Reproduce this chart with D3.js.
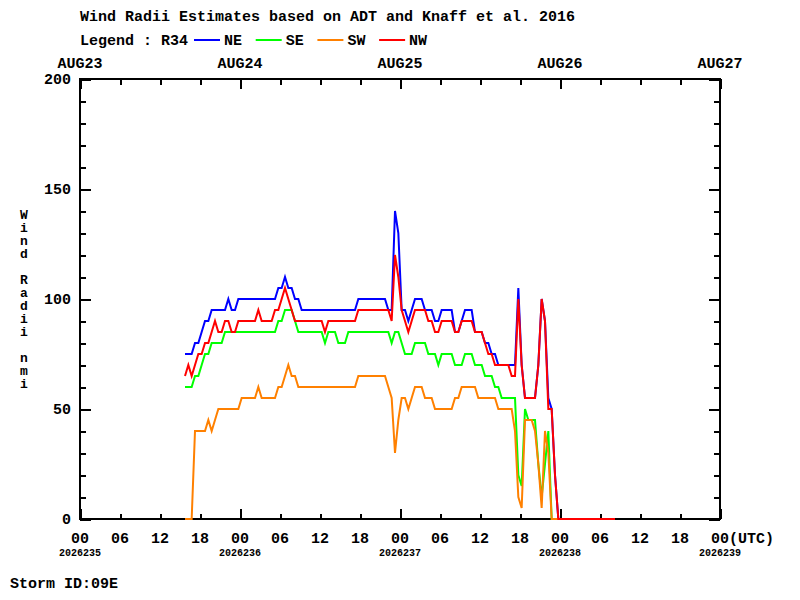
<!DOCTYPE html>
<html lang="en">
<head>
<meta charset="UTF-8">
<title>Wind Radii Estimates</title>
<script src="https://d3js.org/d3.v7.min.js"></script>
<style>
  body { margin: 0; background: #fff; }
  svg text { font-family: "Liberation Mono", "DejaVu Sans Mono", monospace; font-weight: bold; fill: #000; }
  .axis path { display: none; }
  .axis line { stroke: #000; stroke-width: 2px; shape-rendering: crispEdges; }
  .series { fill: none; stroke-width: 2px; }
  .ytitle { writing-mode: vertical-rl; text-orientation: upright; font-size: 13px; letter-spacing: -2px; }
</style>
</head>
<body>
<svg width="800" height="600"></svg>
<script>
// hours since 2026235 00UTC
const hours = [
  15.75,16.25,16.75,17.25,17.75,18.25,18.75,19.25,19.75,20.25,
  20.75,21.25,21.75,22.25,22.75,23.25,23.75,24.25,24.75,25.25,
  25.75,26.25,26.75,27.25,27.75,28.25,28.75,29.25,29.75,30.25,
  30.75,31.25,31.75,32.25,32.75,33.25,33.75,34.25,34.75,35.25,
  35.75,36.25,36.75,37.25,37.75,38.25,38.75,39.25,39.75,40.25,
  40.75,41.25,41.75,42.25,42.75,43.25,43.75,44.25,44.75,45.25,
  45.75,46.25,46.75,47.25,47.75,48.25,48.75,49.25,49.75,50.25,
  50.75,51.25,51.75,52.25,52.75,53.25,53.75,54.25,54.75,55.25,
  55.75,56.25,56.75,57.25,57.75,58.25,58.75,59.25,59.75,60.25,
  60.75,61.25,61.75,62.25,62.75,63.25,63.75,64.25,64.75,65.25,
  65.75,66.25,66.75,67.25,67.75,68.25,68.75,69.25,69.75,70.25,
  70.75,71.25,71.75,80.25
];

// R34 radii (nmi) per quadrant
const ne = [
  75,75,75,80,80,85,90,90,95,95,
  95,95,95,100,95,95,100,100,100,100,
  100,100,100,100,100,100,100,100,105,105,
  110,105,105,100,100,95,95,95,95,95,
  95,95,95,95,95,95,95,95,95,95,
  95,95,100,100,100,100,100,100,100,100,
  100,95,95,140,130,95,95,90,95,100,
  100,100,95,95,95,90,90,95,95,95,
  95,85,85,90,95,95,95,85,85,85,
  80,80,75,75,70,70,70,70,70,70,
  105,70,55,55,55,55,70,100,90,55,
  50,20,0,0
];
const se = [
  60,60,60,65,65,70,75,75,80,80,
  80,80,85,85,85,85,85,85,85,85,
  85,85,85,85,85,85,85,85,90,90,
  95,95,95,90,85,85,85,85,85,85,
  85,85,80,85,85,85,80,80,80,85,
  85,85,85,85,85,85,85,85,85,85,
  85,85,80,85,85,80,75,75,75,80,
  80,80,80,75,75,75,70,75,75,75,
  75,70,70,70,75,75,75,70,70,70,
  65,65,65,60,60,55,55,55,55,55,
  20,15,50,45,45,45,25,10,25,40,
  0,0,0,0
];
const sw = [
  0,0,0,40,40,40,40,45,40,45,
  50,50,50,50,50,50,50,55,55,55,
  55,55,60,55,55,55,55,55,60,60,
  65,70,65,65,60,60,60,60,60,60,
  60,60,60,60,60,60,60,60,60,60,
  60,60,65,65,65,65,65,65,65,65,
  65,60,55,30,45,55,55,50,55,60,
  60,60,55,55,55,50,50,50,50,50,
  50,55,55,60,60,60,60,60,55,55,
  55,55,55,55,50,50,50,50,50,40,
  10,5,45,45,45,40,25,5,40,30,
  0,0,0,0
];
const nw = [
  65,70,65,70,75,75,80,80,85,90,
  85,85,90,90,85,85,90,90,90,90,
  90,90,95,90,90,90,90,95,95,100,
  105,100,95,90,90,90,90,90,90,90,
  90,90,85,90,90,90,90,90,90,90,
  90,90,95,95,95,95,95,95,95,95,
  95,95,90,120,110,95,90,85,90,95,
  95,95,95,90,90,85,85,90,90,90,
  90,85,85,90,90,90,90,85,85,85,
  80,75,75,70,70,70,70,70,65,65,
  100,70,55,55,55,55,70,100,90,50,
  50,20,0,0
];

const seriesNames = ["NE", "SE", "SW", "NW"];
const seriesColors = ["#0000ff", "#00ff00", "#ff8000", "#ff0000"];
const seriesValues = [ne, se, sw, nw];

const hourTicks = [0,6,12,18,24,30,36,42,48,54,60,66,72,78,84,90,96];
const hourLabels = ["00","06","12","18","00","06","12","18","00","06","12","18","00","06","12","18","00(UTC)"];
const dayTicks = [0, 24, 48, 72, 96];
const dayLabels = ["2026235", "2026236", "2026237", "2026238", "2026239"];
const monthLabels = ["AUG23", "AUG24", "AUG25", "AUG26", "AUG27"];
const yMinor = [0,10,20,30,40,50,60,70,80,90,100,110,120,130,140,150,160,170,180,190,200];
const yMajor = [0, 50, 100, 150, 200];

const svg = d3.select("svg");
const plotL = 80, plotR = 720, plotT = 79, plotB = 519;

const x = d3.scaleLinear().domain([0, 96]).range([plotL, plotR]);
const y = d3.scaleLinear().domain([0, 200]).range([plotB, plotT]);

// titles
svg.append("text").attr("x", 80).attr("y", 21).style("font-size", "15px")
  .text("Wind Radii Estimates based on ADT and Knaff et al. 2016");
svg.append("text").attr("x", 80).attr("y", 45).style("font-size", "15px")
  .text("Legend : R34");

seriesNames.forEach((name, i) => {
  const lx = 194 + i * 61.7;
  svg.append("line").attr("x1", lx).attr("x2", lx + 26).attr("y1", 40).attr("y2", 40)
    .attr("stroke", seriesColors[i]).attr("stroke-width", 2);
  svg.append("text").attr("x", lx + 30).attr("y", 45).style("font-size", "15px").text(name);
});

// frame
svg.append("rect").attr("x", plotL).attr("y", plotT)
  .attr("width", plotR - plotL).attr("height", plotB - plotT)
  .attr("fill", "none").attr("stroke", "#000").attr("stroke-width", 2)
  .style("shape-rendering", "crispEdges");

// ticks (pointing inwards)
function ticks(axis, tr) {
  svg.append("g").attr("class", "axis").attr("transform", tr).call(axis)
    .selectAll("text").remove();
}
ticks(d3.axisBottom(x).tickValues(hourTicks).tickSize(-5), `translate(0,${plotB})`);
ticks(d3.axisBottom(x).tickValues(dayTicks).tickSize(-10), `translate(0,${plotB})`);
ticks(d3.axisTop(x).tickValues(hourTicks).tickSize(-6), `translate(0,${plotT})`);
ticks(d3.axisTop(x).tickValues(dayTicks).tickSize(-10), `translate(0,${plotT})`);
ticks(d3.axisLeft(y).tickValues(yMinor).tickSize(-6), `translate(${plotL},0)`);
ticks(d3.axisLeft(y).tickValues(yMajor).tickSize(-11), `translate(${plotL},0)`);
ticks(d3.axisRight(y).tickValues(yMinor).tickSize(-6), `translate(${plotR},0)`);
ticks(d3.axisRight(y).tickValues(yMajor).tickSize(-11), `translate(${plotR},0)`);

// data lines, drawn over the frame like the original
const line = d3.line()
  .x((d, i) => x(hours[i]))
  .y(d => y(d));

seriesValues.forEach((vals, i) => {
  svg.append("path")
    .attr("class", "series")
    .attr("d", line(vals))
    .attr("stroke", seriesColors[i]);
});

// y labels
yMajor.forEach(v => {
  svg.append("text").attr("x", 71).attr("y", y(v) + 5)
    .attr("text-anchor", "end").style("font-size", "15px").text(v);
});

// y title, letters stacked upright
svg.append("text").attr("class", "ytitle")
  .attr("x", 24).attr("y", 208)
  .text("Wind Radii nmi");

// x labels
hourTicks.forEach((h, i) => {
  const last = i === hourTicks.length - 1;
  svg.append("text")
    .attr("x", last ? x(h) - 9 : x(h))
    .attr("y", 543)
    .attr("text-anchor", last ? "start" : "middle")
    .style("font-size", "15px")
    .text(hourLabels[i]);
});
dayTicks.forEach((h, i) => {
  svg.append("text").attr("x", x(h)).attr("y", 556)
    .attr("text-anchor", "middle").style("font-size", "10px").text(dayLabels[i]);
  svg.append("text").attr("x", x(h)).attr("y", 68)
    .attr("text-anchor", "middle").style("font-size", "15px").text(monthLabels[i]);
});

svg.append("text").attr("x", 10).attr("y", 588).style("font-size", "15px").text("Storm ID:09E");
</script>
</body>
</html>
